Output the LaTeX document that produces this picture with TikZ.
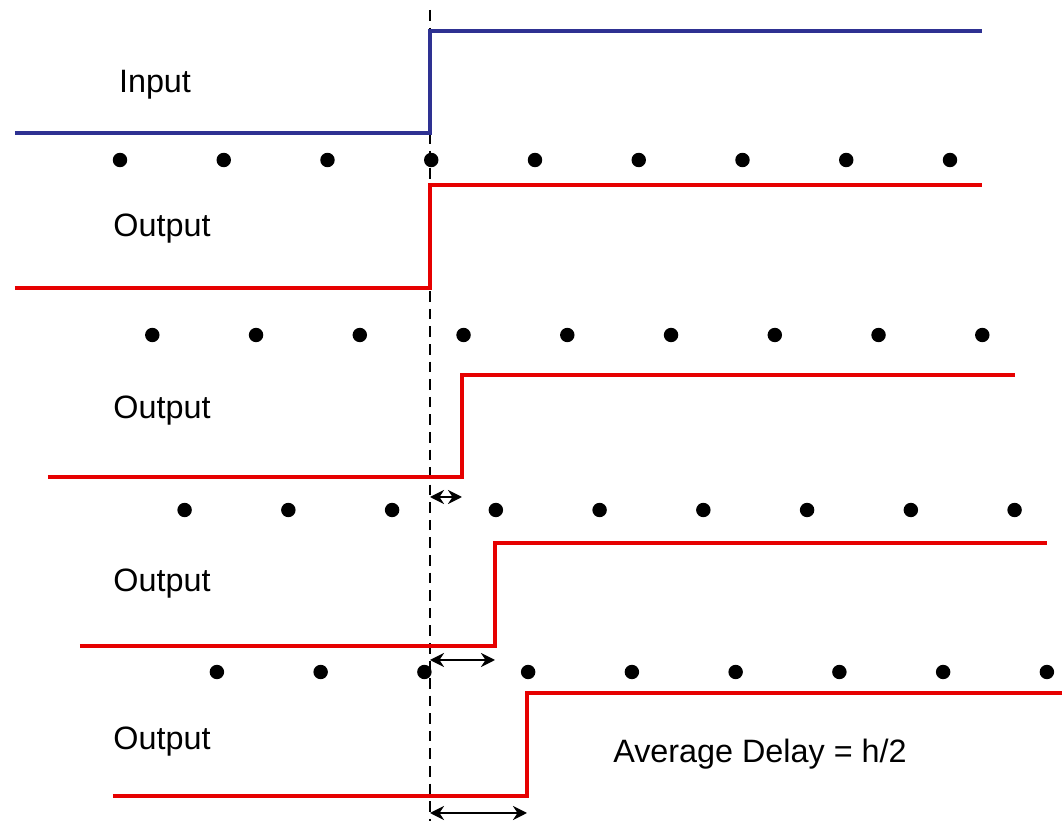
\documentclass[tikz,border=0pt]{standalone}
\usepackage{fontspec}
\setmainfont{Liberation Sans}
\usetikzlibrary{arrows.meta}

\tikzset{
  inwave/.style={draw={rgb,255:red,46;green,49;blue,146},line width=0.9pt},
  outwave/.style={draw={rgb,255:red,230;green,0;blue,0},line width=1.15pt},
  dly/.style={{Stealth[length=4pt,width=4pt]}-{Stealth[length=4pt,width=4pt]},line width=0.45pt},
  lbl/.style={font=\fontsize{9.2}{11}\selectfont,inner sep=0pt}
}

\begin{document}
\begin{tikzpicture}[x=0.01cm,y=-0.01cm]

\useasboundingbox (0,0) rectangle (1062,821);

% reference instant
\coordinate (T0) at (430,10);
\coordinate (T1) at (430,821);
\draw[black,line width=0.45pt,dash pattern=on 3pt off 2pt] (T0)--(T1);

% input
\coordinate (I0) at (15,133);
\coordinate (I1) at (430,133);
\coordinate (I2) at (430,31);
\coordinate (I3) at (982,31);
\draw[inwave] (I0)--(I1)--(I2)--(I3);
\node[lbl] (input) at (155,85) {Input};

% samples
\foreach \y [count=\k from 0] in {160,335,510,672}{
  \foreach \n in {0,...,8}{
    \fill (120+32.3*\k+103.75*\n,\y) circle[radius=2.05pt];
  }
}

% outputs, one sample later each time
\foreach \s/\x/\e/\yl/\yh/\ylab [count=\k] in
  {15/430/982/288/185/229, 48/462/1015/477/375/411,
   80/495/1047/646/543/584, 113/527/1062/796/693/742}{
  \coordinate (O\k a) at (\s,\yl);
  \coordinate (O\k b) at (\x,\yl);
  \coordinate (O\k c) at (\x,\yh);
  \coordinate (O\k d) at (\e,\yh);
  \draw[outwave] (O\k a)--(O\k b)--(O\k c)--(O\k d);
  \node[lbl] (out\k) at (162,\ylab) {Output};
}

% delays
\coordinate (D2a) at (430,497);
\coordinate (D2b) at (462,497);
\coordinate (D3a) at (430,660);
\coordinate (D3b) at (495,660);
\coordinate (D4a) at (430,813);
\coordinate (D4b) at (527,813);
\draw[dly] (D2a)--(D2b);
\draw[dly] (D3a)--(D3b);
\draw[dly] (D4a)--(D4b);

\node[lbl] (avg) at (760,754) {Average Delay = h/2};

\end{tikzpicture}
\end{document}
